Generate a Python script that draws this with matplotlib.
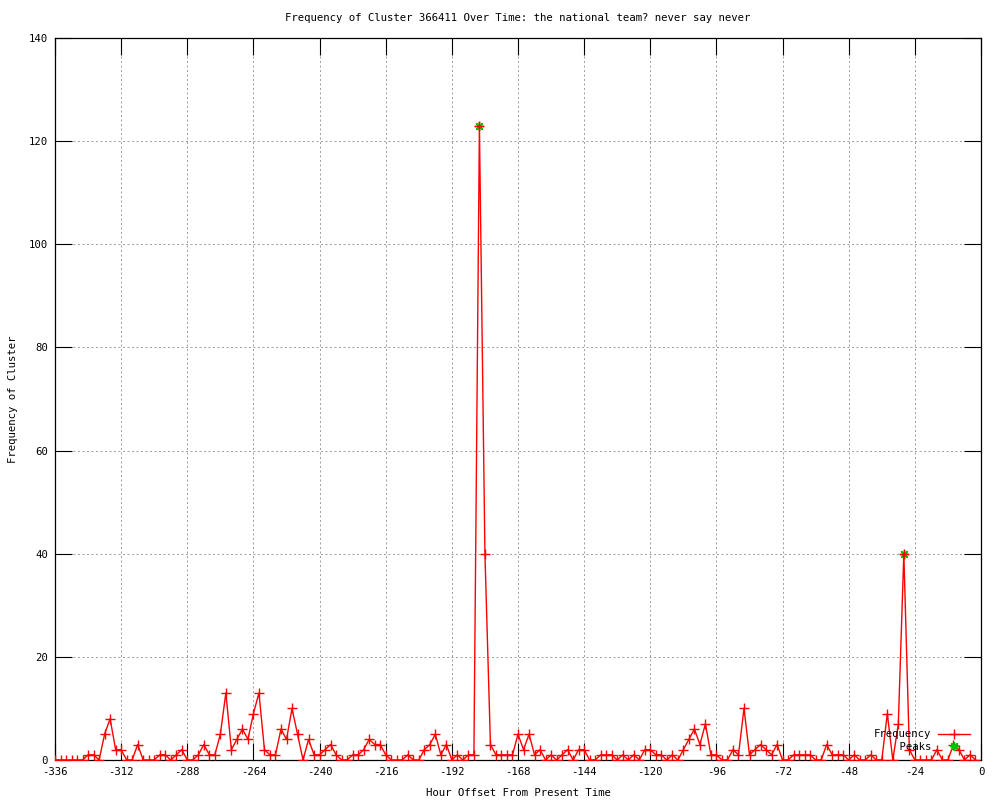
import numpy as np
from matplotlib import pyplot as plt
from matplotlib.lines import Line2D

plt.rcParams['font.family'] = ['DejaVu Sans Mono']
plt.rcParams['axes.unicode_minus'] = False

# hour offsets, one point every 2 hours
hours = list(range(-336, 0, 2))
freq = [0, 0, 0, 0, 0, 0, 1, 1, 0, 5, 8, 2, 2, 0, 0, 3, 0, 0, 0, 1,
        1, 0, 1, 2, 0, 0, 1, 3, 1, 1, 5, 13, 2, 4, 6, 4, 9, 13, 2, 1,
        1, 6, 4, 10, 5, 0, 4, 1, 1, 2, 3, 1, 0, 0, 1, 1, 2, 4, 3, 3,
        1, 0, 0, 0, 1, 0, 0, 2, 3, 5, 1, 3, 0, 1, 0, 1, 1, 123, 40, 3,
        1, 1, 1, 1, 5, 2, 5, 1, 2, 0, 1, 0, 1, 2, 0, 2, 2, 0, 0, 1,
        1, 1, 0, 1, 0, 1, 0, 2, 2, 1, 1, 0, 1, 0, 2, 4, 6, 3, 7, 1,
        1, 0, 0, 2, 1, 10, 1, 2, 3, 2, 1, 3, 0, 0, 1, 1, 1, 1, 0, 0,
        3, 1, 1, 1, 0, 1, 0, 0, 1, 0, 0, 9, 0, 7, 40, 2, 0, 0, 0, 0,
        2, 0, 0, 3, 2, 0, 1, 0]
peak_hours = [-182, -28]
peak_vals = [123, 40]

title = "Frequency of Cluster 366411 Over Time: the national team? never say never"
xticks = list(range(-336, 1, 24))
yticks = list(range(0, 141, 20))

fig = plt.figure(figsize=(10, 8), dpi=100)
ax = fig.add_axes([0.055, 0.05, 0.926, 0.9025])

# peaks first so the red crosses sit on top
ax.plot(peak_hours, peak_vals, linestyle='none', marker=(8, 2, 0), color='#00c000',
        markersize=6.5, markeredgewidth=1, zorder=3)
ax.plot(hours, freq, color='red', linewidth=1, marker='+', markersize=6.5,
        markeredgewidth=1, zorder=4)

ax.set_xlim(-336, 0)
ax.set_ylim(0, 140)
ax.set_xticks(xticks)
ax.set_yticks(yticks)
ax.tick_params(direction='in', length=12, width=0.8, top=True, right=True,
               labelsize=7.7, pad=5)
ax.grid(True, color='#a0a0a0', linestyle=(0, (2, 2.5)), linewidth=0.72)
for s in ax.spines.values():
    s.set_linewidth(0.9)

ax.set_title(title, fontsize=7.7, pad=12)
ax.set_xlabel("Hour Offset From Present Time", fontsize=7.7, labelpad=8)
ax.set_ylabel("Frequency of Cluster", fontsize=7.7, labelpad=8)

handles = [Line2D([], [], color='red', linewidth=1, marker='+', markersize=6.5),
           Line2D([], [], linestyle='none', marker=(8, 2, 0), color='#00c000', markersize=6.5)]
ax.legend(handles, ["Frequency", "    Peaks"], loc='lower right',
          bbox_to_anchor=(0.988, 0.011), frameon=False, markerfirst=False,
          fontsize=7.7, handlelength=3.0, handletextpad=0.6, labelspacing=0.25,
          borderpad=0, borderaxespad=0)

fig.savefig('out.png', dpi=100)
